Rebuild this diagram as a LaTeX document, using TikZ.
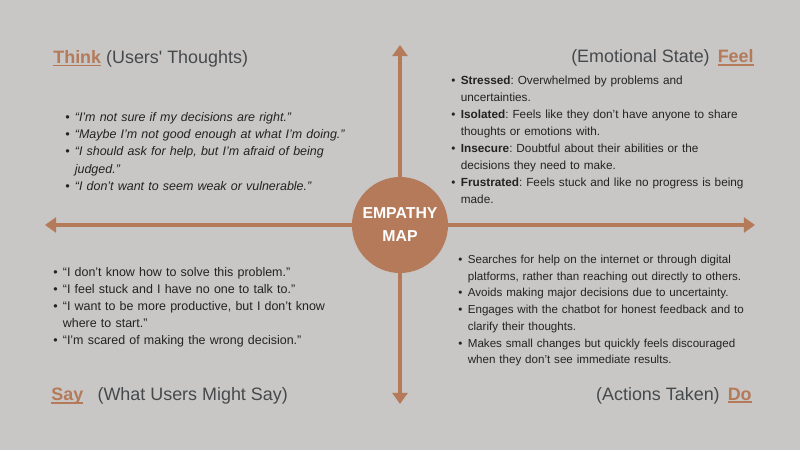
\documentclass[tikz,border=0pt]{standalone}
\usepackage{fontspec}
\setmainfont{Liberation Sans}
\usetikzlibrary{arrows.meta,
  calc,
  positioning
}
\definecolor{mapbrown}{HTML}{B47A5A}
\definecolor{mapbg}{HTML}{C8C7C5}
\definecolor{mapgray}{HTML}{46494C}
\definecolor{mapink}{HTML}{232323}
\newcommand{\headword}[1]{{\color{mapbrown}\bfseries\setbox0\hbox{#1}%
    \rlap{\rule[-1.8pt]{\wd0}{1.1pt}}\box0}}
\newcommand{\mapitem}{\par\hangindent=0.19cm\hangafter=1\noindent
  \makebox[0.19cm][l]{\textbullet}}

\begin{document}
\begin{tikzpicture}[
  axis/.style={mapbrown,line width=2.3pt,-{Triangle[width=8.5pt,length=6.3pt]}},
  heading/.style={mapgray,inner sep=0,font=\fontsize{10.2}{12}\selectfont},
  quotes/.style={mapink,inner sep=0,anchor=north west,text width=6.3cm,
    font=\fontsize{7.1}{9.8}\selectfont\frenchspacing}
  ]
  \useasboundingbox[fill=mapbg] (0, 0) rectangle (16, 9);

  \coordinate (Top) at (8, 8.1);
  \coordinate (Bottom) at (8, 0.92);
  \coordinate (Left) at (0.9, 4.5);
  \coordinate (Right) at (15.1, 4.5);
  \node[circle,fill=mapbrown,minimum size=1.92cm,inner sep=0] (Map) at (8, 4.5) {};
  \draw[axis] (Map) -- (Top);
  \draw[axis] (Map) -- (Bottom);
  \draw[axis] (Map) -- (Left);
  \draw[axis] (Map) -- (Right);
  \node[white,align=center,font=\fontsize{9}{13.1}\selectfont\bfseries] (MapText)
  at (Map) {EMPATHY\\MAP};

  \node[heading,anchor=base west] (ThinkHead) at (1.06, 7.734)
  {\headword{Think} (Users\textquotesingle\ Thoughts)};
  \node[quotes,font=\fontsize{7.1}{9.84}\selectfont\itshape] (ThinkList) at (1.30, 6.93) {%
    \mapitem “I’m not sure if my decisions are right.”
    \mapitem “Maybe I’m not good enough at what I’m doing.”
    \mapitem “I should ask for help, but I’m afraid of being\newline judged.”
    \mapitem “I don’t want to seem weak or vulnerable.”\par};

  \node[heading,anchor=base east] (FeelHead) at (15.08, 7.746)
  {(Emotional State)\hspace{0.45em}\headword{Feel}};
  \node[quotes,font=\fontsize{6.7}{9.72}\selectfont\frenchspacing] (FeelList) at (9.02, 7.66) {%
    \mapitem \textbf{Stressed}: Overwhelmed by problems and\newline uncertainties.
    \mapitem \textbf{Isolated}: Feels like they don’t have anyone to share\newline
    thoughts or emotions with.
    \mapitem \textbf{Insecure}: Doubtful about their abilities or the\newline
    decisions they need to make.
    \mapitem \textbf{Frustrated}: Feels stuck and like no progress is being\newline made.\par};

  \node[quotes] (SayList) at (1.06, 3.83) {%
    \mapitem “I don’t know how to solve this problem.”
    \mapitem “I feel stuck and I have no one to talk to.”
    \mapitem “I want to be more productive, but I don’t know\newline where to start.”
    \mapitem “I’m scared of making the wrong decision.”\par};
  \node[heading,anchor=base west] (SayHead) at (1.02, 0.99)
  {\headword{Say}\hspace{0.8em}(What Users Might Say)};

  \node[quotes,font=\fontsize{6.6}{9.5}\selectfont\frenchspacing] (DoList) at (9.16, 4.07) {%
    \mapitem Searches for help on the internet or through digital\newline
    platforms, rather than reaching out directly to others.
    \mapitem Avoids making major decisions due to uncertainty.
    \mapitem Engages with the chatbot for honest feedback and to\newline
    clarify their thoughts.
    \mapitem Makes small changes but quickly feels discouraged\newline
    when they don’t see immediate results.\par};
  \node[heading,anchor=base east] (DoHead) at (15.04, 1.0)
  {(Actions Taken)\hspace{0.45em}\headword{Do}};
\end{tikzpicture}
\end{document}
